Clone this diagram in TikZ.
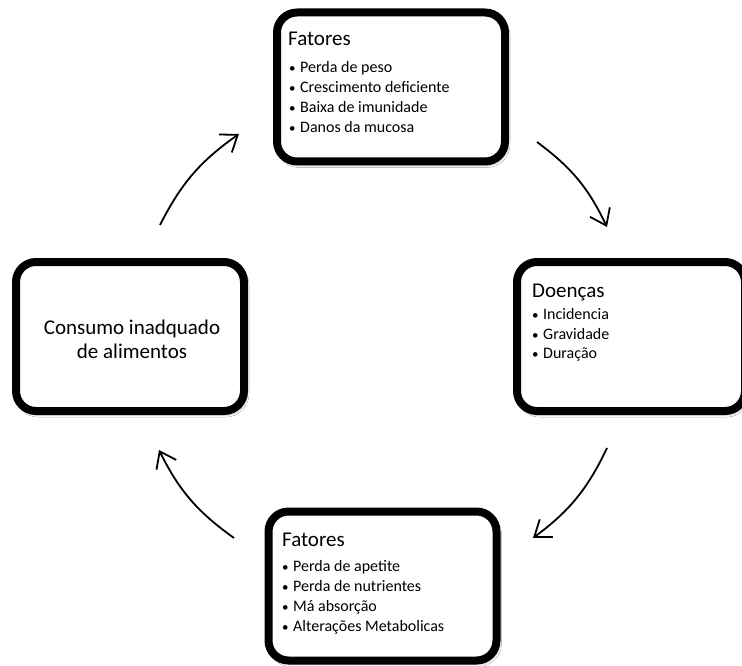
\documentclass[tikz,border=0pt]{standalone}
\usepackage{fontspec}
\setmainfont{Carlito}
\usetikzlibrary{arrows.meta,shadows.blur}
\tikzset{
  cyclebox/.style={draw=black, line width=8pt, rounded corners=20pt, fill=white,
    minimum width=228pt, minimum height=149pt, inner sep=0pt,
    blur shadow={shadow xshift=2pt, shadow yshift=-3pt, shadow blur radius=3pt, shadow opacity=45}},
  titletext/.style={anchor=base west, inner sep=0pt, font=\fontsize{21}{24}\selectfont},
  itemtext/.style={anchor=base west, inner sep=0pt, font=\fontsize{16}{19}\selectfont},
  cyclearrow/.style={line width=1.8pt, -{Straight Barb[length=15pt,width=22pt,line width=1.8pt]}}
}
\newcommand{\bul}[1]{\makebox[11pt][l]{\fontsize{13}{16}\selectfont •}#1}
\begin{document}
\begin{tikzpicture}[x=1pt,y=-1pt]
\clip (0,0) rectangle (742,666);
\fill[white] (0,0) rectangle (742,666);
% boxes
\node[cyclebox] (top) at (391,87) {};
\node[cyclebox] (right) at (631,336.5) {};
\node[cyclebox] (bottom) at (382.5,586) {};
\node[cyclebox] (left) at (130,336.5) {};
% top box text
\node[titletext] (t0) at (288,46) {Fatores};
\node[itemtext] (t1) at (289,73) {\bul{Perda de peso}};
\node[itemtext] (t2) at (289,93) {\bul{Crescimento deficiente}};
\node[itemtext] (t3) at (289,113) {\bul{Baixa de imunidade}};
\node[itemtext] (t4) at (289,133) {\bul{Danos da mucosa}};
% right box text
\node[titletext] (r0) at (532,297) {Doenças};
\node[itemtext] (r1) at (532,319) {\bul{Incidencia}};
\node[itemtext] (r2) at (532,339) {\bul{Gravidade}};
\node[itemtext] (r3) at (532,358) {\bul{Duração}};
% bottom box text
\node[titletext] (b0) at (282,546) {Fatores};
\node[itemtext] (b1) at (282,571) {\bul{Perda de apetite}};
\node[itemtext] (b2) at (282,591) {\bul{Perda de nutrientes}};
\node[itemtext] (b3) at (282,611) {\bul{Má absorção}};
\node[itemtext] (b4) at (282,631) {\bul{Alterações Metabolicas}};
% left box text
\node[align=center, font=\fontsize{21}{24}\selectfont, inner sep=0pt] (l0) at (132,339) {Consumo inadquado\\de alimentos};
% arrows
\coordinate (a1s) at (160,225); \coordinate (a1e) at (239,134);
\coordinate (a2s) at (537,142); \coordinate (a2e) at (607,227);
\coordinate (a3s) at (607,448); \coordinate (a3e) at (533,538);
\coordinate (a4s) at (234,538); \coordinate (a4e) at (159,450);
\draw[cyclearrow] (a1s) to[bend left=14] (a1e);
\draw[cyclearrow] (a2s) to[bend left=14] (a2e);
\draw[cyclearrow] (a3s) to[bend left=14] (a3e);
\draw[cyclearrow] (a4s) to[bend left=14] (a4e);
\end{tikzpicture}
\end{document}
